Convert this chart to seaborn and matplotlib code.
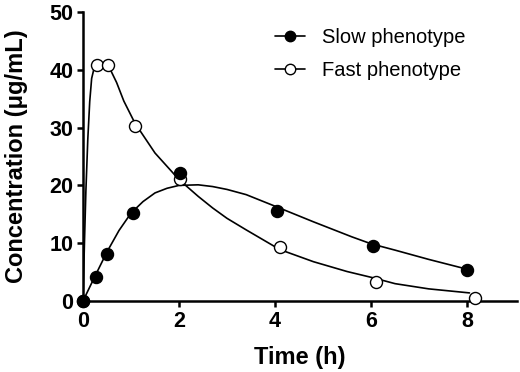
import matplotlib
matplotlib.use("Agg")
import matplotlib.pyplot as plt
from matplotlib.lines import Line2D
import seaborn as sns

# measured concentrations (ug/mL)
slow_time = [0, 0.27, 0.5, 1.04, 2.02, 4.04, 6.04, 8.0]
slow_conc = [0, 4.1, 8.1, 15.3, 22.2, 15.6, 9.5, 5.4]
fast_time = [0, 0.29, 0.52, 1.08, 2.02, 4.1, 6.1, 8.17]
fast_conc = [0, 40.9, 40.8, 30.3, 21.1, 9.3, 3.3, 0.5]

# fitted curves
slow_fit_t = [0, 0.25, 0.5, 0.75, 1.0, 1.25, 1.5, 1.75, 2.0, 2.4, 2.7, 3.0, 3.4, 4.0, 4.8, 5.6, 6.0, 6.5, 7.2, 8.0]
slow_fit_c = [0, 4.3, 8.5, 12.2, 15.2, 17.2, 18.7, 19.5, 20.0, 20.1, 19.8, 19.3, 18.4, 16.4, 13.7, 11.1, 9.9, 8.8, 7.2, 5.5]
fast_fit_t = [0, 0.03, 0.06, 0.1, 0.14, 0.18, 0.24, 0.31, 0.4, 0.56, 0.7, 0.85, 1.08, 1.5, 2.0, 2.4, 2.7, 3.0, 3.4, 4.1, 4.8, 5.5, 6.05, 6.5, 7.2, 8.05]
fast_fit_c = [0, 10, 19, 28, 34.5, 38.5, 40.6, 41.2, 41.0, 40.2, 37.8, 34.6, 30.8, 25.6, 21.0, 18.1, 16.1, 14.3, 12.3, 8.9, 6.8, 5.1, 4.0, 3.0, 2.1, 1.4]

sns.set_style("ticks", {"axes.edgecolor": "black", "text.color": "black",
                        "xtick.color": "black", "ytick.color": "black",
                        "axes.labelcolor": "black"})
plt.rcParams['font.family'] = ['Liberation Sans', 'DejaVu Sans']

fig = plt.figure(figsize=(5.2, 3.72), dpi=100)
ax = fig.add_axes([83/520, 1-301/372, (517-83)/520, (301-12)/372])

sns.lineplot(x=slow_fit_t, y=slow_fit_c, color='black', lw=1.2, ax=ax, sort=False)
sns.lineplot(x=fast_fit_t, y=fast_fit_c, color='black', lw=1.2, ax=ax, sort=False)
sns.scatterplot(x=fast_time, y=fast_conc, facecolor='white', edgecolor='black', s=75, linewidth=1, ax=ax, zorder=5, clip_on=False)
sns.scatterplot(x=slow_time, y=slow_conc, color='black', edgecolor='black', s=75, linewidth=1, ax=ax, zorder=6, clip_on=False)

ax.set_xlim(0, 9.04)
ax.set_ylim(0, 50)
ax.set_xticks([0, 2, 4, 6, 8])
ax.set_yticks([0, 10, 20, 30, 40, 50])
sns.despine(ax=ax)
for s in ['left', 'bottom']:
    ax.spines[s].set_linewidth(1.8)
ax.tick_params(width=1.8, length=4.5, labelsize=15.5, pad=2.5, colors='black')
for lab in ax.get_xticklabels() + ax.get_yticklabels():
    lab.set_fontweight('bold')
ax.set_xlabel("Time (h)", fontsize=17, fontweight='bold', labelpad=10, color='black')
ax.set_ylabel("Concentration (μg/mL)", fontsize=17, fontweight='bold', labelpad=15, color='black')

handles = [Line2D([], [], color='black', lw=1.2, marker='o', markersize=7.5, markerfacecolor='black', markeredgecolor='black'),
           Line2D([], [], color='black', lw=1.2, marker='o', markersize=7.5, markerfacecolor='white', markeredgecolor='black')]
leg = fig.legend(handles, ["Slow phenotype", "Fast phenotype"], loc='upper left',
                 bbox_to_anchor=(275/520, 1-28/372), frameon=False, fontsize=14.5,
                 handlelength=1.5, handletextpad=0.85, labelspacing=0.72, borderpad=0, borderaxespad=0)
for t in leg.get_texts():
    t.set_color('black')

fig.savefig("out.png", dpi=100)
